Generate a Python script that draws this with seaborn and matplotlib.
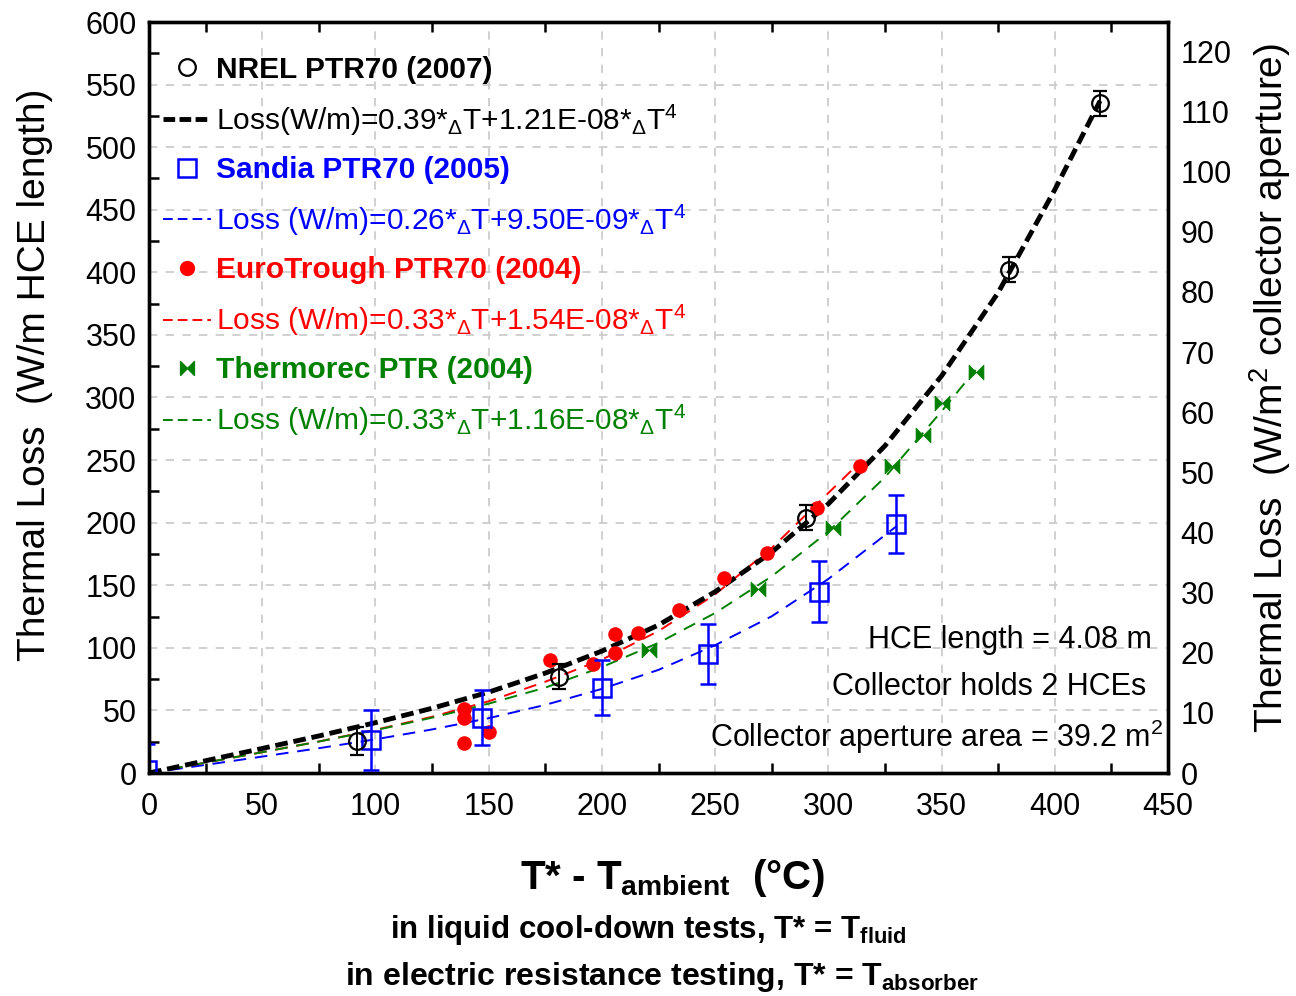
import numpy as np
import pandas as pd
import matplotlib
matplotlib.use("Agg")
import matplotlib.pyplot as plt
import seaborn as sns
from matplotlib.lines import Line2D
from matplotlib.path import Path
from matplotlib.ticker import FixedLocator, MultipleLocator

# ---------------- data ----------------
nrel_x = [92, 181, 290, 380, 420]
nrel_y = [25.5, 77, 204, 402, 535]
nrel_err = [11, 10, 10, 10, 10]

sandia_x = [-1, 98, 147, 200, 247, 296, 330]
sandia_y = [2, 26, 44, 68, 95, 145, 199]
sandia_err = [21, 24, 22, 22, 24, 24, 23]

euro_x = [139, 139, 139, 150, 177, 196, 206, 206, 216, 234, 254, 273, 295, 314]
euro_y = [51, 44, 24, 33, 90, 87, 111, 96, 112, 130, 156, 176, 212, 245]

thermo_x = [221, 269, 302, 328, 342, 350, 365]
thermo_y = [98, 147, 196, 245, 270, 296, 320]

# fitted curves
nrel_fit_x = [0, 25, 50, 75, 100, 125, 150, 175, 200, 225, 250, 275, 300, 325, 350, 375, 400, 420]
nrel_fit_y = [0, 9.8, 19.6, 29.6, 40.2, 51.7, 64.6, 79.8, 97.4, 118.2, 144.8, 176.4, 215, 261.4, 317.2, 383.8, 466, 537]

sandia_fit_x = [0, 25, 50, 75, 100, 125, 150, 175, 200, 225, 250, 275, 300, 330]
sandia_fit_y = [0, 6.5, 13.1, 19.8, 26.9, 34.8, 43.8, 54.4, 67.2, 82.4, 102.1, 125.2, 155, 197]

euro_fit_x = [0, 25, 50, 75, 100, 125, 150, 175, 200, 225, 250, 275, 300, 315]
euro_fit_y = [0, 8.3, 16.6, 25.2, 34.5, 44.9, 57.3, 72.9, 90.6, 113.4, 142.7, 179.8, 223.7, 250]

thermo_fit_x = [0, 25, 50, 75, 100, 125, 150, 175, 200, 225, 250, 275, 300, 325, 350, 365]
thermo_fit_y = [0, 8.3, 16.6, 25.1, 34.2, 44.2, 55.4, 68.2, 84.6, 104.0, 127.8, 157.1, 192.9, 236.3, 289, 322]

series_names = ["NREL PTR70 (2007)", "Sandia PTR70 (2005)",
                "EuroTrough PTR70 (2004)", "Thermorec PTR (2004)"]
fit_labels = [
    r"Loss(W/m)=0.39*$_{\Delta}$T+1.21E-08*$_{\Delta}$T$^{4}$",
    r"Loss (W/m)=0.26*$_{\Delta}$T+9.50E-09*$_{\Delta}$T$^{4}$",
    r"Loss (W/m)=0.33*$_{\Delta}$T+1.54E-08*$_{\Delta}$T$^{4}$",
    r"Loss (W/m)=0.33*$_{\Delta}$T+1.16E-08*$_{\Delta}$T$^{4}$",
]
x_ticks = [0, 50, 100, 150, 200, 250, 300, 350, 400, 450]
y_ticks = [0, 50, 100, 150, 200, 250, 300, 350, 400, 450, 500, 550, 600]
y2_ticks = [0, 10, 20, 30, 40, 50, 60, 70, 80, 90, 100, 110, 120]
hce_length = 4.08
hces_per_collector = 2
aperture_area = 39.2

# ---------------- style ----------------
sns.set_theme(style="ticks")
plt.rcParams["font.family"] = ["Liberation Sans", "DejaVu Sans"]
plt.rcParams["mathtext.fontset"] = "custom"
plt.rcParams["mathtext.rm"] = "Liberation Sans"
plt.rcParams["mathtext.it"] = "Liberation Sans"
plt.rcParams["mathtext.bf"] = "Liberation Sans:bold"
plt.rcParams["text.color"] = "black"
plt.rcParams["axes.labelcolor"] = "black"
plt.rcParams["xtick.color"] = "black"
plt.rcParams["ytick.color"] = "black"

BLUE = "#0000ff"
RED = "#ff0000"
GREEN = "#008000"

fig = plt.figure(figsize=(12.96, 9.96), dpi=100)
ax = fig.add_axes([149 / 1296, 1 - 773 / 996, (1168 - 149) / 1296, (773 - 22) / 996])

black_dash = (0, (2.6, 1.2))
thin_dash = (0, (6.5, 4.5))

# fitted curves
sns.lineplot(x=sandia_fit_x, y=sandia_fit_y, ax=ax, color=BLUE, lw=1.4,
             linestyle=thin_dash, estimator=None, sort=False, zorder=3)
sns.lineplot(x=euro_fit_x, y=euro_fit_y, ax=ax, color=RED, lw=1.4,
             linestyle=thin_dash, estimator=None, sort=False, zorder=3)
sns.lineplot(x=thermo_fit_x, y=thermo_fit_y, ax=ax, color=GREEN, lw=1.4,
             linestyle=thin_dash, estimator=None, sort=False, zorder=3)
sns.lineplot(x=nrel_fit_x, y=nrel_fit_y, ax=ax, color="black", lw=3.5,
             linestyle=black_dash, estimator=None, sort=False, zorder=4)

# measured points
sns.scatterplot(x=euro_x, y=euro_y, ax=ax, color=RED, s=110, linewidth=0,
                marker="o", zorder=5)
bowtie = Path([(-1, -1), (-1, 1), (0, 0), (1, 1), (1, -1), (0, 0), (-1, -1)])
sns.scatterplot(x=thermo_x, y=thermo_y, ax=ax, color=GREEN, s=115, linewidth=0.5,
                edgecolor=GREEN, marker=bowtie, zorder=5)
ax.errorbar(sandia_x, sandia_y, yerr=sandia_err, fmt="s", ms=13, mfc="none",
            mec=BLUE, mew=1.8, ecolor=BLUE, elinewidth=1.8, capsize=6,
            capthick=1.8, zorder=6)
ax.errorbar(nrel_x, nrel_y, yerr=nrel_err, fmt="o", ms=12, mfc="none",
            mec="black", mew=1.6, ecolor="black", elinewidth=1.4, capsize=5,
            capthick=1.4, zorder=7)

# axes
ax.set_xlim(0, 450)
ax.set_ylim(0, 600)
ax.xaxis.set_major_locator(FixedLocator(x_ticks))
ax.yaxis.set_major_locator(FixedLocator(y_ticks))
ax.xaxis.set_minor_locator(MultipleLocator(50, offset=25))
ax.yaxis.set_minor_locator(MultipleLocator(50, offset=25))
ax.grid(True, which="major", color="#c8c8c8", linestyle=(0, (5, 5)), lw=1.2)
ax.tick_params(which="major", length=0, labelsize=22, colors="black")
ax.tick_params(axis="x", which="major", pad=14)
ax.tick_params(axis="y", which="major", pad=9)
ax.tick_params(which="minor", direction="in", length=7, width=1.8,
               top=True, bottom=True, left=True, right=False, color="black")
for sp in ax.spines.values():
    sp.set_visible(True)
    sp.set_linewidth(2.4)
    sp.set_color("black")

ax2 = ax.twinx()
ax2.set_ylim(0, 600 * hce_length * hces_per_collector / aperture_area)
ax2.yaxis.set_major_locator(FixedLocator(y2_ticks))
ax2.tick_params(axis="y", length=0, labelsize=22, pad=9, colors="black")
for sp in ax2.spines.values():
    sp.set_linewidth(2.4)
    sp.set_color("black")

ax.set_ylabel("Thermal Loss  (W/m HCE length)", fontsize=28, va="center")
ax.yaxis.set_label_coords(-0.112, 0.53)
ax2.set_ylabel(r"Thermal Loss  (W/m$^{2}$ collector aperture)", fontsize=28,
               rotation=90, va="center")
ax2.yaxis.set_label_coords(1.100, 0.513)

# legend
handles = [
    Line2D([], [], marker="o", ls="none", mfc="none", mec="black", ms=12, mew=1.6),
    Line2D([], [], color="black", lw=3.5, ls=(0, (2.4, 0.9))),
    Line2D([], [], marker="s", ls="none", mfc="none", mec=BLUE, ms=13, mew=1.8),
    Line2D([], [], color=BLUE, lw=1.4, ls=(0, (5, 2.6))),
    Line2D([], [], marker="o", ls="none", color=RED, ms=10),
    Line2D([], [], color=RED, lw=1.4, ls=(0, (5, 2.6))),
    Line2D([], [], marker=bowtie, ls="none", color=GREEN, ms=10),
    Line2D([], [], color=GREEN, lw=1.4, ls=(0, (5, 2.6))),
]
labels = [series_names[0], fit_labels[0], series_names[1], fit_labels[1],
          series_names[2], fit_labels[2], series_names[3], fit_labels[3]]
leg = ax.legend(handles, labels, loc="upper left", bbox_to_anchor=(0.014, 0.955),
                frameon=False, fontsize=21.5, handlelength=1.6, handletextpad=0.15,
                labelspacing=0.62, borderpad=0, borderaxespad=0)
colors = ["black", "black", BLUE, BLUE, RED, RED, GREEN, GREEN]
for i, t in enumerate(leg.get_texts()):
    t.set_color(colors[i])
    if i % 2 == 0:
        t.set_fontweight("bold")

# annotations
ax.text(0.984, 0.177, f"HCE length = {hce_length} m", transform=ax.transAxes,
        ha="right", va="center", fontsize=22)
ax.text(0.979, 0.1145, f"Collector holds {hces_per_collector} HCEs",
        transform=ax.transAxes, ha="right", va="center", fontsize=22)
ax.text(0.995, 0.048, f"Collector aperture area = {aperture_area} m$^{{2}}$",
        transform=ax.transAxes, ha="right", va="center", fontsize=22)

# x labels
fig.text(0.519, 1 - 878 / 996, r"T* - T$_{\mathbf{ambient}}$  (°C)",
         ha="center", va="center", fontsize=29, fontweight="bold")
fig.text(0.5, 1 - 930 / 996, r"in liquid cool-down tests, T* = T$_{\mathbf{fluid}}$",
         ha="center", va="center", fontsize=22.5, fontweight="bold")
fig.text(0.511, 1 - 977 / 996,
         r"in electric resistance testing, T* = T$_{\mathbf{absorber}}$",
         ha="center", va="center", fontsize=23, fontweight="bold")

fig.savefig("out.png", dpi=100)
